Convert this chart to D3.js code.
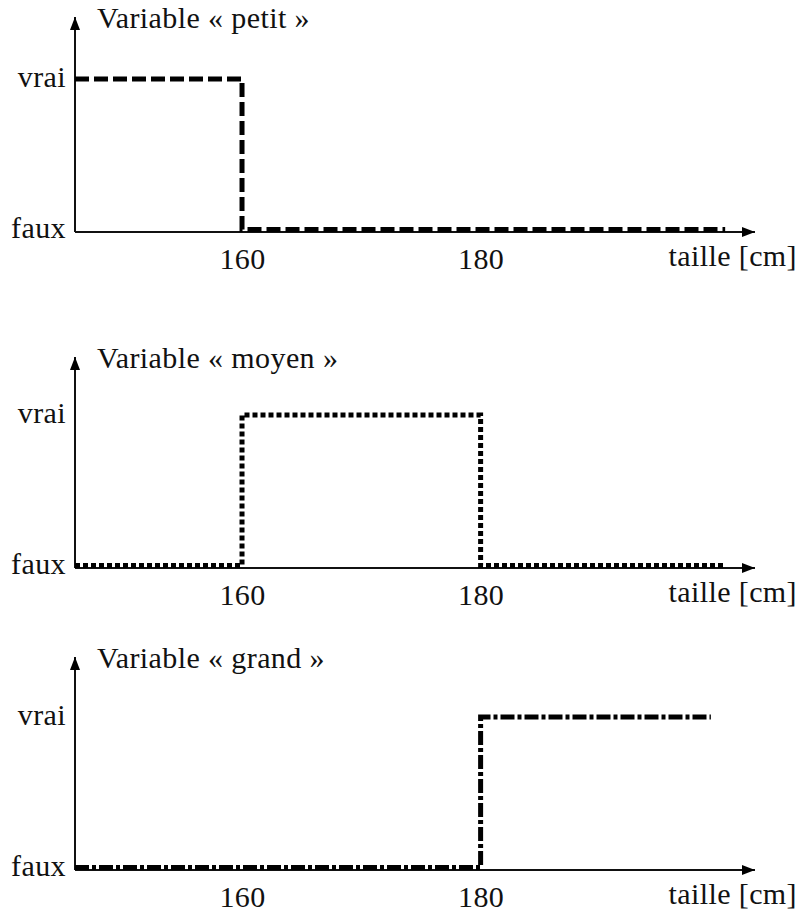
<!DOCTYPE html>
<html>
<head>
<meta charset="utf-8">
<script src="https://cdn.jsdelivr.net/npm/d3@7"></script>
<style>
  body { margin: 0; background: #fff; }
  svg { display: block; }
</style>
</head>
<body>
<svg id="chart" width="801" height="918"></svg>
<script>
// values
var variables = ["petit", "moyen", "grand"];
var tickValues = [160, 180];
var stateLabels = ["faux", "vrai"];
var xLabel = "taille [cm]";

// step series: x breakpoints [cm] and truth value (0 = faux, 1 = vrai)
var petitX = [146, 160, 200.5];
var petitV = [1, 0, 0];
var moyenX = [146, 160, 180, 200.5];
var moyenV = [0, 1, 0, 0];
var grandX = [146, 180, 199.3];
var grandV = [0, 1, 1];

var seriesX = [petitX, moyenX, grandX];
var seriesV = [petitV, moyenV, grandV];

// layout
var AXIS_Y = [232, 568, 870];
var TOP_Y = [17, 357, 657];
var DASHES = ["14,5", "5,3", "14,3,4,3"];

var svg = d3.select("#chart");

var x = d3.scaleLinear().domain([146, 203]).range([75, 755]);

function styleText(sel) {
    return sel.attr("style", "font-family:'Liberation Serif';font-size:30px;letter-spacing:0.4px")
        .attr("fill", "#111");
}

var defs = svg.append("defs");
defs.append("marker")
    .attr("id", "arrow")
    .attr("markerUnits", "userSpaceOnUse")
    .attr("markerWidth", 13)
    .attr("markerHeight", 11)
    .attr("refX", 13)
    .attr("refY", 5.5)
    .attr("orient", "auto")
  .append("path")
    .attr("d", "M0,0.5 L13,5.5 L0,10.5 Z")
    .attr("fill", "#000");

variables.forEach(function (name, i) {
    var axisY = AXIS_Y[i];
    var y = d3.scaleLinear().domain([0, 1]).range([axisY - 2.5, axisY - 153]);
    var g = svg.append("g");

    // axes with arrow heads
    g.append("line")
        .attr("x1", x.range()[0]).attr("y1", axisY)
        .attr("x2", x.range()[0]).attr("y2", TOP_Y[i])
        .attr("stroke", "#111").attr("stroke-width", 2)
        .attr("marker-end", "url(#arrow)");
    g.append("line")
        .attr("x1", x.range()[0]).attr("y1", axisY)
        .attr("x2", x.range()[1]).attr("y2", axisY)
        .attr("stroke", "#111").attr("stroke-width", 2)
        .attr("marker-end", "url(#arrow)");

    // tick labels via d3 axis
    var xAxis = d3.axisBottom(x).tickValues(tickValues).tickSize(0).tickFormat(d3.format("d"));
    var ax = g.append("g")
        .attr("transform", "translate(0," + axisY + ")")
        .call(xAxis);
    ax.select(".domain").remove();
    ax.attr("font-family", "Liberation Serif").attr("font-size", 30);
    styleText(ax.selectAll("text").attr("y", 37).attr("dy", 0));

    styleText(g.append("text")
        .attr("x", 797).attr("y", axisY + 34)
        .attr("text-anchor", "end")
        .text(xLabel));

    // faux / vrai labels
    styleText(g.selectAll(".state")
        .data([0, 1])
        .enter().append("text")
        .attr("class", "state")
        .attr("x", 66)
        .attr("y", function (d) { return y(d) + 8; })
        .attr("text-anchor", "end")
        .text(function (d) { return stateLabels[d]; }));

    // title
    styleText(g.append("text")
        .attr("x", 97).attr("y", TOP_Y[i] + 11)
        .text("Variable\u00a0«\u00a0" + name + "\u00a0»"));

    // step line
    var pts = seriesX[i].map(function (xv, k) { return [xv, seriesV[i][k]]; });
    var line = d3.line()
        .x(function (d) { return x(d[0]); })
        .y(function (d) { return y(d[1]); })
        .curve(d3.curveStepAfter);
    g.append("path")
        .attr("d", line(pts))
        .attr("fill", "none")
        .attr("stroke", "#000")
        .attr("stroke-width", 5)
        .attr("stroke-dasharray", DASHES[i]);
});
</script>
</body>
</html>
